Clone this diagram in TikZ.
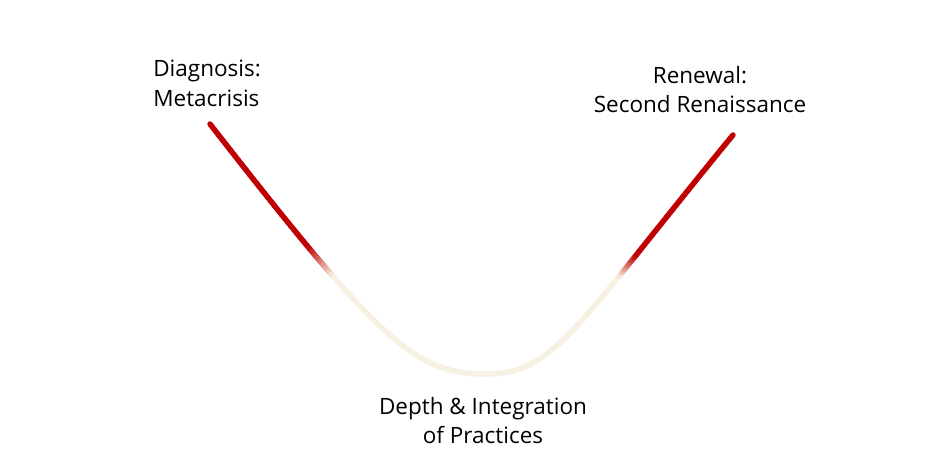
\documentclass[tikz,border=0pt]{standalone}
\usepackage{fontspec}
\setmainfont{Open Sans}
\usetikzlibrary{positioning}
\definecolor{CurveRed}{RGB}{192,0,0}
\definecolor{CurveCream}{RGB}{246,241,226}
\tikzset{
  lbl/.style={inner sep=0pt,font=\fontsize{12.8}{16.6}\selectfont,text=black},
  seg/.style={line width=3.1pt,line cap=round},
}
% point of a cubic Bezier at parameter #1
\newcommand\bezpt[1]{%
  \pgfmathsetmacro\tt{#1}%
  \pgfmathsetmacro\bx{(1-\tt)^3*\ax+3*(1-\tt)^2*\tt*\bbx+3*(1-\tt)*\tt^2*\cx+\tt^3*\dx}%
  \pgfmathsetmacro\by{(1-\tt)^3*\ay+3*(1-\tt)^2*\tt*\bby+3*(1-\tt)*\tt^2*\cy+\tt^3*\dy}}

\begin{document}
\begin{tikzpicture}[x=0.02cm,y=-0.02cm]
\useasboundingbox (0,0) rectangle (944,476);
% the U curve, red at both ends and cream at the bottom
\foreach \ax/\ay/\bbx/\bby/\cx/\cy/\dx/\dy in
  {210/124/380/342/415/374/485/374, 485/374/555/374/573/330/733/135}{
  \foreach \i in {0,...,119}{
    \bezpt{\i/120}
    \coordinate (p) at (\bx,\by);
    \bezpt{(\i+1)/120}
    \coordinate (q) at (\bx,\by);
    \bezpt{(\i+0.5)/120}
    \pgfmathsetmacro\r{max(0,min(100,(334-\bx)*4))+max(0,min(100,(\bx-620)*6))}
    \draw[seg,draw=CurveRed!\r!CurveCream] (p) -- (q);
  }
}
\node[lbl,anchor=north west,align=left] (diag) at (153,60) {Diagnosis:\\Metacrisis};
\node[lbl,anchor=north,align=center] (renew) at (700,66) {Renewal:\\Second Renaissance};
\node[lbl,anchor=north,align=center] (depth) at (483,397) {Depth \& Integration\\of Practices};
\end{tikzpicture}
\end{document}
